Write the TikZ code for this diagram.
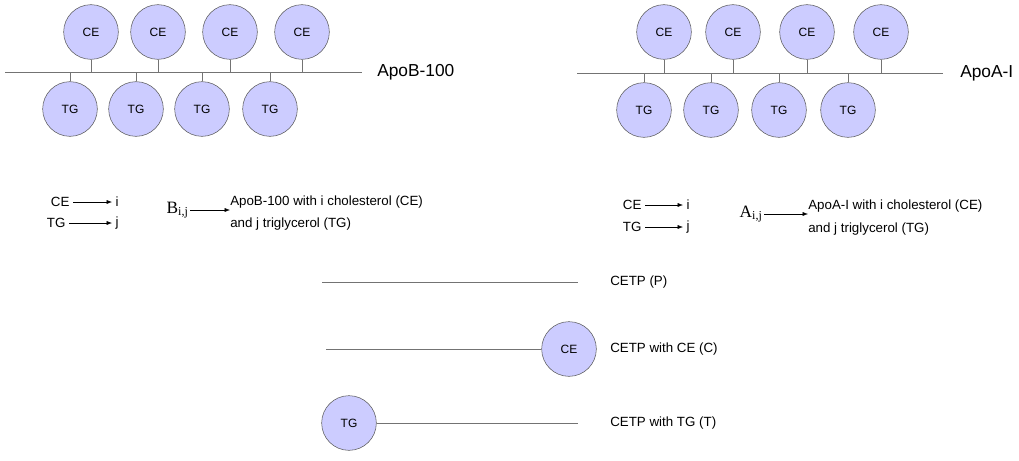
\documentclass[tikz,border=0pt]{standalone}
\usepackage{fontspec}
\setmainfont{Liberation Sans}
\newfontfamily\timesfont{Liberation Serif}
\usepackage{tikz}
\usetikzlibrary{arrows.meta}

\begin{document}
\begin{tikzpicture}
    [
      x=0.75pt, y=-0.75pt,
      Ball/.style={circle, draw=black!65, fill=blue!20, minimum size=41pt, inner sep=0pt, font=\fontsize{9}{10}\selectfont},
      Chain/.style={draw=black!55, line width=0.6pt},
      Stem/.style={draw=black!55, line width=0.5pt},
      Label/.style={font=\fontsize{13}{15}\selectfont, anchor=west, inner sep=0pt},
      Txt/.style={font=\fontsize{10}{12}\selectfont, inner sep=2.5pt},
      Desc/.style={font=\fontsize{10}{12}\selectfont, anchor=west, inner sep=0pt},
      Sym/.style={font=\fontsize{13}{15}\timesfont, inner sep=1pt},
      Arr/.style={-{Latex[length=4pt, width=3pt]}, draw=black, line width=0.4pt},
    ]
    \useasboundingbox (0,0) rectangle (1019,460);

    % ApoB-100
    \coordinate (bL) at (5,72);
    \coordinate (bR) at (362,72);
    \node[Ball] (ceB1) at (91,32) {CE};
    \node[Ball] (ceB2) at (158,32) {CE};
    \node[Ball] (ceB3) at (230,32) {CE};
    \node[Ball] (ceB4) at (302,32) {CE};
    \node[Ball] (tgB1) at (70,109) {TG};
    \node[Ball] (tgB2) at (136,109) {TG};
    \node[Ball] (tgB3) at (202,109) {TG};
    \node[Ball] (tgB4) at (270,109) {TG};
    \node[Label] (apoB) at (377,72) {ApoB-100};

    \path[Chain] (bL) -- (bR);
    \path[Stem] (ceB1) -- (ceB1 |- bL);
    \path[Stem] (ceB2) -- (ceB2 |- bL);
    \path[Stem] (ceB3) -- (ceB3 |- bL);
    \path[Stem] (ceB4) -- (ceB4 |- bL);
    \path[Stem] (tgB1) -- (tgB1 |- bL);
    \path[Stem] (tgB2) -- (tgB2 |- bL);
    \path[Stem] (tgB3) -- (tgB3 |- bL);
    \path[Stem] (tgB4) -- (tgB4 |- bL);

    % ApoA-I
    \coordinate (aL) at (577,73);
    \coordinate (aR) at (943,73);
    \node[Ball] (ceA1) at (664,32) {CE};
    \node[Ball] (ceA2) at (733,32) {CE};
    \node[Ball] (ceA3) at (807,32) {CE};
    \node[Ball] (ceA4) at (881,32) {CE};
    \node[Ball] (tgA1) at (644,110) {TG};
    \node[Ball] (tgA2) at (711,110) {TG};
    \node[Ball] (tgA3) at (779,110) {TG};
    \node[Ball] (tgA4) at (848,110) {TG};
    \node[Label] (apoA) at (960,73) {ApoA-I};

    \path[Chain] (aL) -- (aR);
    \path[Stem] (ceA1) -- (ceA1 |- aL);
    \path[Stem] (ceA2) -- (ceA2 |- aL);
    \path[Stem] (ceA3) -- (ceA3 |- aL);
    \path[Stem] (ceA4) -- (ceA4 |- aL);
    \path[Stem] (tgA1) -- (tgA1 |- aL);
    \path[Stem] (tgA2) -- (tgA2 |- aL);
    \path[Stem] (tgA3) -- (tgA3 |- aL);
    \path[Stem] (tgA4) -- (tgA4 |- aL);

    % Notation, left
    \node[Txt, anchor=east] (ceBn) at (73,202) {CE};
    \node[Txt, anchor=west] (iB) at (112,202) {i};
    \node[Txt, anchor=east] (tgBn) at (69,223) {TG};
    \node[Txt, anchor=west] (jB) at (112,223) {j};
    \node[Sym, anchor=west] (bij) at (165,210) {B\textsubscript{i,j}};
    \node[Desc] (descB1) at (230,202) {ApoB-100 with i cholesterol (CE)};
    \node[Desc] (descB2) at (230,224) {and j triglycerol (TG)};

    \path[Arr] (ceBn) -- (iB);
    \path[Arr] (tgBn) -- (jB);
    \path[Arr] (bij.east) -- (bij.east -| descB1.west);

    % Notation, right
    \node[Txt, anchor=east] (ceAn) at (645,205) {CE};
    \node[Txt, anchor=west] (iA) at (683,205) {i};
    \node[Txt, anchor=east] (tgAn) at (645,227) {TG};
    \node[Txt, anchor=west] (jA) at (683,227) {j};
    \node[Sym, anchor=west] (aij) at (738,214) {A\textsubscript{i,j}};
    \node[Desc] (descA1) at (808,206) {ApoA-I with i cholesterol (CE)};
    \node[Desc] (descA2) at (808,229) {and j triglycerol (TG)};

    \path[Arr] (ceAn) -- (iA);
    \path[Arr] (tgAn) -- (jA);
    \path[Arr] (aij.east) -- (aij.east -| descA1.west);

    % CETP forms
    \coordinate (pL) at (322,282);
    \coordinate (pR) at (578,282);
    \node[Desc] (cetpP) at (610,282) {CETP (P)};
    \path[Stem] (pL) -- (pR);

    \coordinate (cL) at (326,349);
    \node[Ball] (ceC) at (569,349) {CE};
    \node[Desc] (cetpC) at (610,349) {CETP with CE (C)};
    \path[Stem] (cL) -- (ceC);

    \node[Ball] (tgT) at (349,423) {TG};
    \coordinate (tR) at (578,423);
    \node[Desc] (cetpT) at (610,423) {CETP with TG (T)};
    \path[Stem] (tgT) -- (tR);

  \end{tikzpicture}
\end{document}
